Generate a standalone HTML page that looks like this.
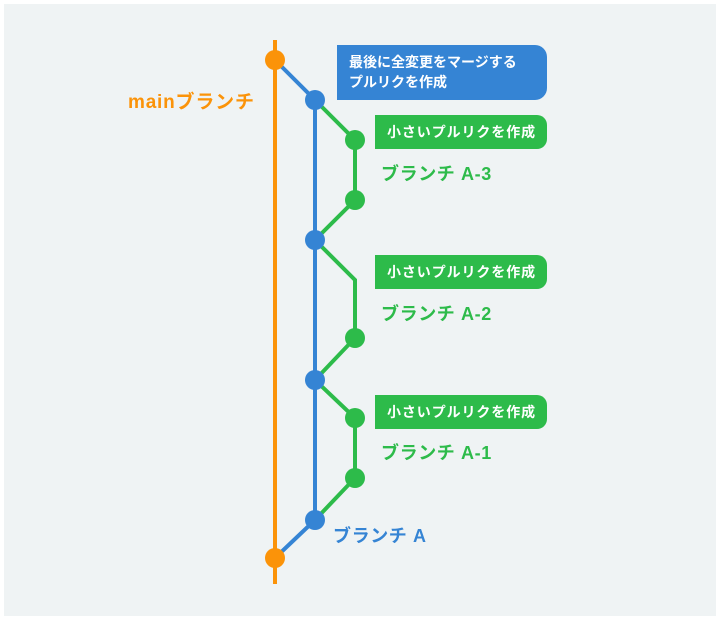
<!DOCTYPE html>
<html><head><meta charset="utf-8"><style>
body{margin:0;width:720px;height:620px;background:#fff;overflow:hidden}
</style></head><body>
<svg width="720" height="620" xmlns="http://www.w3.org/2000/svg" font-family="'Liberation Sans','Noto Sans CJK JP',sans-serif" font-weight="bold">
<rect x="4" y="4" width="712" height="612" fill="#eff3f4"/>
<line x1="275" y1="40" x2="275" y2="584" stroke="#fb9309" stroke-width="4"/>
<g stroke="#3584d4" stroke-width="4" fill="none">
<polyline points="275,60 315,100 315,520 275,558"/>
</g>
<g stroke="#2dbb4a" stroke-width="4" fill="none">
<polyline points="315,100 355,140 355,200 315,240 355,280 355,338 315,380 355,418 355,478 315,520"/>
</g>
<g fill="#fb9309"><circle cx="275" cy="60" r="10"/><circle cx="275" cy="558" r="10"/></g>
<g fill="#3584d4"><circle cx="315" cy="100" r="10"/><circle cx="315" cy="240" r="10"/><circle cx="315" cy="380" r="10"/><circle cx="315" cy="520" r="10"/></g>
<g fill="#2dbb4a"><circle cx="355" cy="140" r="10"/><circle cx="355" cy="200" r="10"/><circle cx="355" cy="338" r="10"/><circle cx="355" cy="418" r="10"/><circle cx="355" cy="478" r="10"/></g>
<path d="M337,45 H535 a12,12 0 0 1 12,12 V88 a12,12 0 0 1 -12,12 H337 Z" fill="#3584d4"/>
<text x="349" y="67" fill="#fff" font-size="14">最後に全変更をマージする</text>
<text x="349" y="87" fill="#fff" font-size="14">プルリクを作成</text>
<g fill="#2dbb4a">
<path d="M375,115 H537 a10,10 0 0 1 10,10 V139 a10,10 0 0 1 -10,10 H375 Z"/>
<path d="M375,255 H537 a10,10 0 0 1 10,10 V279 a10,10 0 0 1 -10,10 H375 Z"/>
<path d="M375,395 H537 a10,10 0 0 1 10,10 V419 a10,10 0 0 1 -10,10 H375 Z"/>
</g>
<g fill="#fff" font-size="14" letter-spacing="0.9">
<text x="387" y="137">小さいプルリクを作成</text>
<text x="387" y="277">小さいプルリクを作成</text>
<text x="387" y="417">小さいプルリクを作成</text>
</g>
<g fill="#2dbb4a" font-size="18" letter-spacing="0.6">
<text x="381" y="180">ブランチ A-3</text>
<text x="381" y="320">ブランチ A-2</text>
<text x="381" y="459">ブランチ A-1</text>
</g>
<text x="333" y="542" fill="#3584d4" font-size="18" letter-spacing="0.6">ブランチ A</text>
<text x="128" y="108" fill="#fb9309" font-size="19" letter-spacing="0.8">mainブランチ</text>
</svg>
</body></html>
